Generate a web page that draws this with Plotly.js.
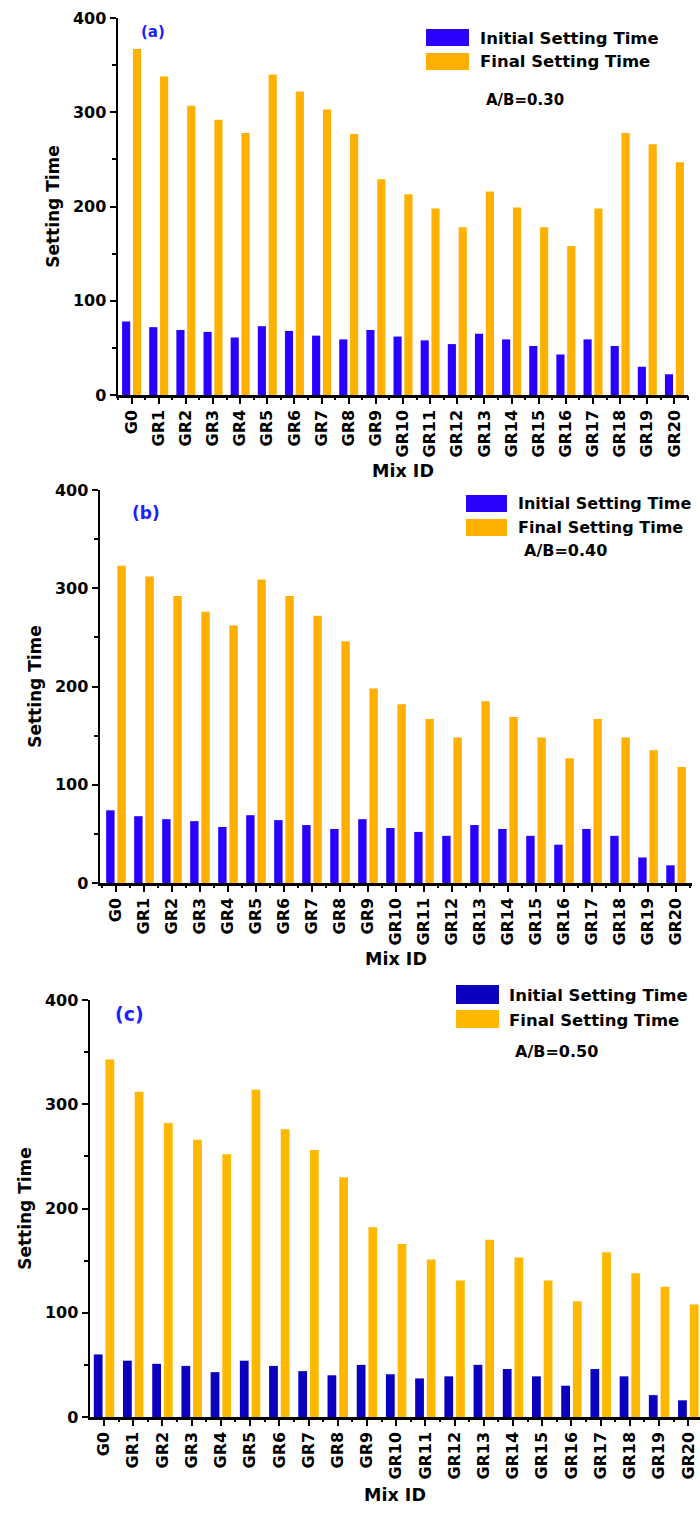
<!DOCTYPE html>
<html>
<head>
<meta charset="utf-8">
<script src="https://cdn.plot.ly/plotly-3.0.1.min.js"></script>
<style>
  html, body { margin: 0; padding: 0; background: #ffffff; }
  #chart { width: 700px; height: 1513px; }
</style>
</head>
<body>
<div id="chart"></div>
<script>
// ---------------- data ----------------
const categories = ['G0','GR1','GR2','GR3','GR4','GR5','GR6','GR7','GR8','GR9','GR10',
                    'GR11','GR12','GR13','GR14','GR15','GR16','GR17','GR18','GR19','GR20'];
const seriesNames = ['Initial Setting Time', 'Final Setting Time'];

// (a) A/B = 0.30
const initialA = [78, 72, 69, 67, 61, 73, 68, 63, 59, 69, 62, 58, 54, 65, 59, 52, 43, 59, 52, 30, 22];
const finalA   = [367, 338, 307, 292, 278, 340, 322, 303, 277, 229, 213, 198, 178, 216, 199, 178, 158, 198, 278, 266, 247];

// (b) A/B = 0.40
const initialB = [74, 68, 65, 63, 57, 69, 64, 59, 55, 65, 56, 52, 48, 59, 55, 48, 39, 55, 48, 26, 18];
const finalB   = [323, 312, 292, 276, 262, 309, 292, 272, 246, 198, 182, 167, 148, 185, 169, 148, 127, 167, 148, 135, 118];

// (c) A/B = 0.50
const initialC = [60, 54, 51, 49, 43, 54, 49, 44, 40, 50, 41, 37, 39, 50, 46, 39, 30, 46, 39, 21, 16];
const finalC   = [343, 312, 282, 266, 252, 314, 276, 256, 230, 182, 166, 151, 131, 170, 153, 131, 111, 158, 138, 125, 108];

const panelLabels = ['(a)', '(b)', '(c)'];
const ratioLabels = ['A/B=0.30', 'A/B=0.40', 'A/B=0.50'];
const xTitle = 'Mix ID';
const yTitle = 'Setting Time';

// ---------------- layout helpers ----------------
const W = 700, H = 1513;
const px = x => x / W;
const py = y => 1 - y / H;
const FONT = 'DejaVu Sans, Liberation Sans, Arial, sans-serif';

const panels = [
  { init: initialA, fin: finalA, blue: '#2B00FF', orange: '#FFB000',
    x0: 118, x1: 688, yTop: 18, yBot: 395, range: [-0.5, 20.5],
    label: { x: 153, y: 32, size: 15 },
    leg: { sx0: 426, sx1: 469, b0: 29, b1: 46, o0: 53, o1: 70, tx: 478, ty1: 38, ty2: 62, size: 16.5 },
    ratio: { x: 484, y: 100, size: 15 },
    ytStand: 9, xtStand: 8 },
  { init: initialB, fin: finalB, blue: '#2B00FF', orange: '#FFB000',
    x0: 100, x1: 692, yTop: 490, yBot: 883, range: [-0.57, 20.57],
    label: { x: 146, y: 513, size: 17 },
    leg: { sx0: 466, sx1: 507, b0: 495, b1: 512, o0: 519, o1: 536, tx: 516, ty1: 503, ty2: 527, size: 16 },
    ratio: { x: 522, y: 550, size: 16 },
    ytStand: 9, xtStand: 8 },
  { init: initialC, fin: finalC, blue: '#0A00BE', orange: '#FFB800',
    x0: 90, x1: 700, yTop: 1000, yBot: 1417, range: [-0.48, 20.4],
    label: { x: 129, y: 1014, size: 19 },
    leg: { sx0: 456, sx1: 499, b0: 985, b1: 1004, o0: 1010, o1: 1028, tx: 507, ty1: 995, ty2: 1021, size: 16.5 },
    ratio: { x: 513, y: 1051, size: 16 },
    ytStand: 9, xtStand: 10 }
];

const traces = [];
const layout = {
  width: W, height: H,
  margin: { l: 0, r: 0, t: 0, b: 0 },
  paper_bgcolor: '#ffffff', plot_bgcolor: '#ffffff',
  barmode: 'group', bargap: 0.2, bargroupgap: 0.25,
  showlegend: false,
  font: { family: FONT, color: '#000000' },
  annotations: [], shapes: []
};

panels.forEach((p, i) => {
  const n = i + 1;
  const xa = n === 1 ? 'x' : 'x' + n;
  const ya = n === 1 ? 'y' : 'y' + n;
  const xm = 'x' + (n + 3);           // overlay axis for boundary (minor) ticks
  const xKey = n === 1 ? 'xaxis' : 'xaxis' + n;
  const yKey = n === 1 ? 'yaxis' : 'yaxis' + n;
  const xmKey = 'xaxis' + (n + 3);

  traces.push({ type: 'bar', x: categories, y: p.init, name: seriesNames[0],
    xaxis: xa, yaxis: ya, marker: { color: p.blue, line: { width: 0 } }, hoverinfo: 'x+y+name' });
  traces.push({ type: 'bar', x: categories, y: p.fin, name: seriesNames[1],
    xaxis: xa, yaxis: ya, marker: { color: p.orange, line: { width: 0 } }, hoverinfo: 'x+y+name' });
  // invisible helper so the overlay axis knows the categories (draws boundary ticks)
  traces.push({ type: 'scatter', mode: 'markers', x: categories, y: categories.map(() => 0),
    xaxis: xm, yaxis: ya, marker: { opacity: 0 }, hoverinfo: 'skip', showlegend: false });

  const dom = [px(p.x0), px(p.x1)];
  layout[xKey] = {
    type: 'category', domain: dom, anchor: ya, range: p.range,
    showline: true, linecolor: '#000', linewidth: 2.5,
    ticks: 'outside', ticklen: 6, tickwidth: 2, tickcolor: '#000',
    tickangle: -90, tickfont: { family: FONT, size: 16, weight: 'bold', color: '#000' },
    showgrid: false, zeroline: false, automargin: false, fixedrange: true,
    title: { text: xTitle, standoff: p.xtStand, font: { family: FONT, size: 17.5, weight: 'bold', color: '#000' } }
  };
  layout[xmKey] = {
    type: 'category', domain: dom, anchor: ya, overlaying: xa, matches: xa,
    tickson: 'boundaries', ticks: 'outside', ticklen: 4, tickwidth: 2, tickcolor: '#000',
    showticklabels: false, showline: false, showgrid: false, zeroline: false, automargin: false
  };
  layout[yKey] = {
    domain: [py(p.yBot), py(p.yTop)], anchor: xa, range: [0, 400],
    tickmode: 'linear', tick0: 0, dtick: 100,
    showline: true, linecolor: '#000', linewidth: 2.5,
    ticks: 'outside', ticklen: 6, tickwidth: 2, tickcolor: '#000',
    minor: { ticks: 'outside', ticklen: 4, tickwidth: 2, tickcolor: '#000', dtick: 50, tick0: 0, showgrid: false },
    tickfont: { family: FONT, size: 16, weight: 'bold', color: '#000' },
    showgrid: false, zeroline: false, automargin: false, fixedrange: true,
    title: { text: yTitle, standoff: p.ytStand, font: { family: FONT, size: 17, weight: 'bold', color: '#000' } }
  };

  // panel label
  layout.annotations.push({ xref: 'paper', yref: 'paper', x: px(p.label.x), y: py(p.label.y),
    xanchor: 'center', yanchor: 'middle', showarrow: false, text: panelLabels[i],
    font: { family: FONT, size: p.label.size, weight: 'bold', color: '#1E1EFF' } });
  // legend swatches + texts
  const L = p.leg;
  layout.shapes.push({ type: 'rect', xref: 'paper', yref: 'paper',
    x0: px(L.sx0), x1: px(L.sx1), y0: py(L.b1), y1: py(L.b0), fillcolor: p.blue, line: { width: 0 } });
  layout.shapes.push({ type: 'rect', xref: 'paper', yref: 'paper',
    x0: px(L.sx0), x1: px(L.sx1), y0: py(L.o1), y1: py(L.o0), fillcolor: p.orange, line: { width: 0 } });
  layout.annotations.push({ xref: 'paper', yref: 'paper', x: px(L.tx), y: py(L.ty1),
    xanchor: 'left', yanchor: 'middle', showarrow: false, text: seriesNames[0],
    font: { family: FONT, size: L.size, weight: 'bold', color: '#000' } });
  layout.annotations.push({ xref: 'paper', yref: 'paper', x: px(L.tx), y: py(L.ty2),
    xanchor: 'left', yanchor: 'middle', showarrow: false, text: seriesNames[1],
    font: { family: FONT, size: L.size, weight: 'bold', color: '#000' } });
  // ratio label
  layout.annotations.push({ xref: 'paper', yref: 'paper', x: px(p.ratio.x), y: py(p.ratio.y),
    xanchor: 'left', yanchor: 'middle', showarrow: false, text: ratioLabels[i],
    font: { family: FONT, size: p.ratio.size, weight: 'bold', color: '#000' } });
});

Plotly.newPlot('chart', traces, layout, { staticPlot: true, displayModeBar: false });
</script>
</body>
</html>
